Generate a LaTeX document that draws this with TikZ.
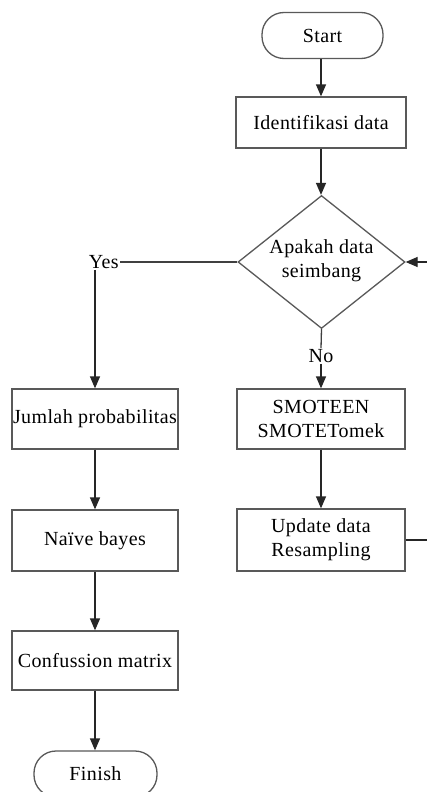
\documentclass[tikz,border=0pt]{standalone}
\usepackage{fontspec}
\setmainfont{Liberation Serif}[LetterSpace=2]
\usetikzlibrary{shapes.geometric,arrows.meta}
\begin{document}
\begin{tikzpicture}[x=1pt,y=-1pt,
  every node/.style={font=\fontsize{20}{24}\selectfont, text=black},
  box/.style={draw=black!65, line width=1.3pt, fill=white, inner sep=0pt, align=center},
  term/.style={box, rounded corners=22pt},
  decbox/.style={diamond, draw=black!65, line width=1.3pt, fill=white, inner sep=0pt},
  lbl/.style={inner sep=1pt},
  arr/.style={-{Triangle[length=12pt,width=10pt]}, line width=1.3pt, draw=black!85},
  ln/.style={line width=1.3pt, draw=black!75}]
\fill[white] (0,0) rectangle (426,792);
\useasboundingbox (0,0) rectangle (426,792);
% right column
\node[term, minimum width=121pt, minimum height=46pt] (start) at (322.5,35.5) {Start};
\node[box, minimum width=170pt, minimum height=51pt] (ident) at (321,122.5) {Identifikasi data};
\node[decbox, minimum width=167pt, minimum height=133pt] (dec) at (321.5,262) {};
\node[align=center] (dectext) at (321.5,261) {Apakah data\\seimbang};
\node[lbl] (no) at (321,356) {No};
\node[box, minimum width=168pt, minimum height=60pt] (smote) at (321,419) {SMOTEEN\\SMOTETomek};
\node[box, minimum width=168pt, minimum height=62pt] (update) at (321,540) {Update data\\Resampling};
% left column
\node[lbl, anchor=east] (yes) at (120,262) {Yes};
\node[box, minimum width=166pt, minimum height=60pt] (jumlah) at (95,419) {Jumlah probabilitas};
\node[box, minimum width=166pt, minimum height=61pt] (naive) at (95,540.5) {Naïve bayes};
\node[box, minimum width=166pt, minimum height=59pt] (conf) at (95,660.5) {Confussion matrix};
\node[term, minimum width=123pt, minimum height=46pt] (finish) at (95.5,774) {Finish};
% connectors
\draw[arr] (start.south -| ident.north) -- (ident.north);
\draw[arr] (ident.south) -- (ident.south |- dec.north);
\draw[ln] (dec.west) -- (yes.east);
\draw[arr] (yes.south -| jumlah.north) -- (jumlah.north);
\draw[ln] (dec.south) -- (no.north);
\draw[arr] (no.south) -- (no.south |- smote.north);
\draw[arr] (smote.south) -- (update.north);
\draw[arr] (update.east) -- ++(26,0) |- (dec.east);
\draw[arr] (jumlah.south) -- (naive.north);
\draw[arr] (naive.south) -- (conf.north);
\draw[arr] (conf.south) -- (conf.south |- finish.north);
\end{tikzpicture}
\end{document}
